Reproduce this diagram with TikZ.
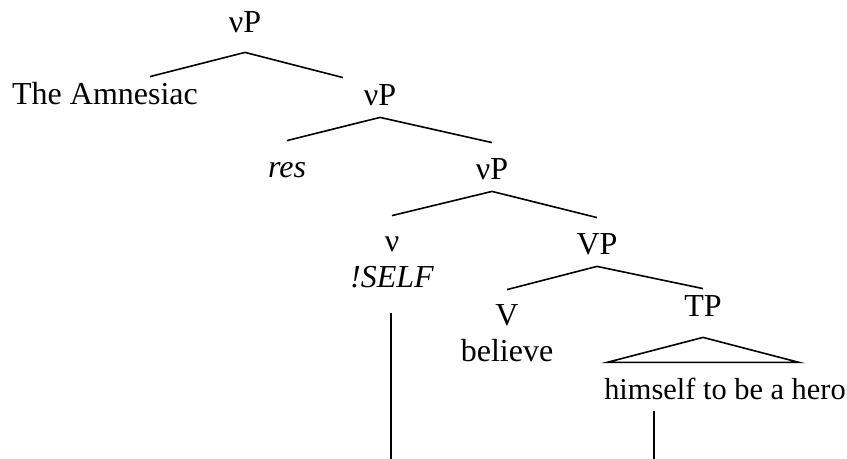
\documentclass[tikz,border=0pt]{standalone}
\usepackage{fontspec}
\setmainfont{Liberation Serif}
\usetikzlibrary{positioning}
\tikzset{
cat/.style = {inner sep=0pt, font=\fontsize{16}{18}\selectfont,
    text height=14pt, text depth=5.5pt, anchor=base},
low/.style = {text height=18.5pt},
two/.style = {align=center, text height=36pt},
branch/.style = {line width=0.8pt}
}

\begin{document}
\begin{tikzpicture}[x=0.5pt, y=-0.5pt]
    \useasboundingbox (0,0) rectangle (847,459);
    \node [cat, text depth=9.5pt] (vp1) at (245,33) {νP};
    \node [cat] (amn) at (105,105) {The Amnesiac};
    \node [cat] (vp2) at (380,106) {νP};
    \node [cat, low] (res) at (287,178) {\textit{res}};
    \node [cat, low] (vp3) at (492,180) {νP};
    \node [cat, two] (vhead) at (392,288) {ν\\\textit{!SELF}};
    \node [cat, low] (vp4) at (597,255) {VP};
    \node [cat, two] (vverb) at (507,362) {V\\believe};
    \node [cat, text depth=10pt] (tp) at (703,317) {TP};
    \node [cat, low, font=\fontsize{15.2}{18}\selectfont] (hero) at (725,400) {himself to be a hero};
    \coordinate (selffoot) at (391,459);
    \coordinate (himfoot) at (654,459);

    \draw[branch] (vp1.south) -- ([xshift=22.5pt]amn.north);
    \draw[branch] (vp1.south) -- ([xshift=-18.5pt]vp2.north);
    \draw[branch] (vp2.south) -- (res.north);
    \draw[branch] (vp2.south) -- (vp3.north);
    \draw[branch] (vp3.south) -- (vhead.north);
    \draw[branch] (vp3.south) -- (vp4.north);
    \draw[branch] (vp4.south) -- (vverb.north);
    \draw[branch] (vp4.south) -- (tp.north);
    \draw[branch] (tp.south) -- ++(-96,25) -- ++(192,0) -- cycle;
    \draw[branch, shorten <=7pt] (vhead.south -| selffoot) -- (selffoot);
    \draw[branch] (hero.south -| himfoot) -- (himfoot);
\end{tikzpicture}
\end{document}
